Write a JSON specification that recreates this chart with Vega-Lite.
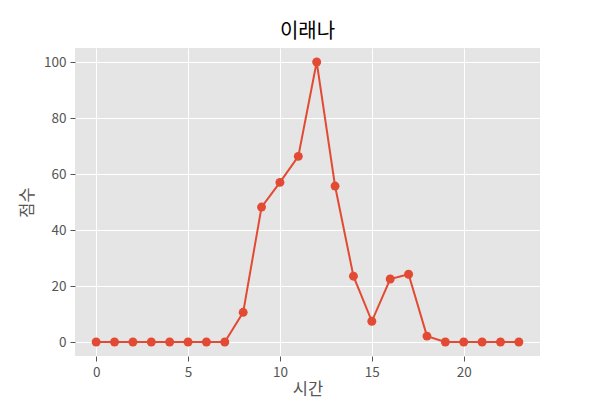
{
  "$schema": "https://vega.github.io/schema/vega-lite/v6.json",
  "width": 465,
  "height": 308,
  "autosize": {"type": "none"},
  "padding": {"left": 75, "top": 48, "right": 60, "bottom": 44},
  "background": "white",
  "title": {"text": "이래나", "font": "Noto Sans CJK KR", "fontSize": 20, "fontWeight": "normal", "color": "#000000", "offset": 6},
  "config": {
    "view": {"fill": "#E5E5E5", "stroke": null},
    "axis": {
      "domain": false,
      "grid": true,
      "gridColor": "#FFFFFF",
      "gridWidth": 1,
      "tickColor": "#555555",
      "tickSize": 5,
      "labelPadding": 4,
      "labelFont": "Noto Sans CJK KR",
      "labelFontSize": 13.5,
      "labelColor": "#555555",
      "titleFont": "Noto Sans CJK KR",
      "titleFontSize": 16.5,
      "titleFontWeight": "normal",
      "titleColor": "#555555"
    }
  },
  "data": {"values": [
    {"h": 0, "s": 0}, {"h": 1, "s": 0}, {"h": 2, "s": 0}, {"h": 3, "s": 0},
    {"h": 4, "s": 0}, {"h": 5, "s": 0}, {"h": 6, "s": 0}, {"h": 7, "s": 0},
    {"h": 8, "s": 10.6}, {"h": 9, "s": 48.2}, {"h": 10, "s": 57.0}, {"h": 11, "s": 66.3},
    {"h": 12, "s": 100}, {"h": 13, "s": 55.7}, {"h": 14, "s": 23.5}, {"h": 15, "s": 7.4},
    {"h": 16, "s": 22.5}, {"h": 17, "s": 24.2}, {"h": 18, "s": 2.1}, {"h": 19, "s": 0},
    {"h": 20, "s": 0}, {"h": 21, "s": 0}, {"h": 22, "s": 0}, {"h": 23, "s": 0}
  ]},
  "encoding": {
    "x": {"field": "h", "type": "quantitative", "title": "시간",
      "scale": {"domain": [-1.15, 24.15], "nice": false, "zero": false},
      "axis": {"values": [0, 5, 10, 15, 20], "titlePadding": 3}},
    "y": {"field": "s", "type": "quantitative", "title": "점수",
      "scale": {"domain": [-5, 105], "nice": false, "zero": false},
      "axis": {"values": [0, 20, 40, 60, 80, 100], "titlePadding": 8}}
  },
  "layer": [
    {"mark": {"type": "line", "color": "#E24A33", "strokeWidth": 2}},
    {"mark": {"type": "point", "filled": true, "color": "#E24A33", "opacity": 1, "size": 80}}
  ]
}
